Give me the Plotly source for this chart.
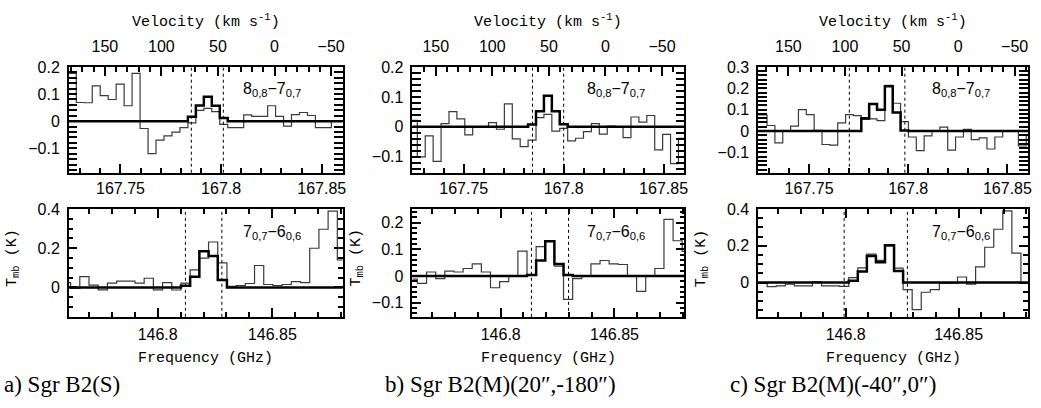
import numpy as np
import plotly.graph_objects as go

# ---------------- data ----------------
top_width = 0.00396     # channel width (GHz), 8(0,8)-7(0,7) spectra
bot_width = 0.004012    # channel width (GHz), 7(0,7)-6(0,6) spectra

top_range = [167.7243, 167.8604]
bot_range = [146.7612, 146.8807]

# ---- a) Sgr B2(S)
a_top_start = 167.7241
a_top_obs = [0.176, 0.069, 0.068, 0.13, 0.094, 0.08, 0.137, 0.057, 0.176, -0.027,
             -0.12, -0.07, -0.054, -0.04, -0.024, -0.006, 0.04, 0.047, 0.035, -0.012,
             -0.024, -0.024, 0.023, 0.018, 0.018, 0.057, 0.018, -0.018, 0.024, 0.032,
             0.021, -0.024, -0.024, 0.0, 0.0]
a_top_mod = [0, 0, 0, 0, 0, 0, 0, 0, 0, 0,
             0, 0, 0, 0, 0, 0.016, 0.058, 0.09, 0.057, 0.012,
             0, 0, 0, 0, 0, 0, 0, 0, 0, 0,
             0, 0, 0, 0, 0]
a_bot_start = 146.7580
a_bot_obs = [0.025, -0.005, 0.055, 0.012, -0.012, 0.022, 0.032, 0.032, 0.022, 0.047,
             -0.012, 0.025, -0.013, 0.022, 0.09, 0.15, 0.232, 0.125, 0.005, 0.01,
             0.02, 0.112, 0.015, 0.01, 0.015, 0.03, 0.025, 0.2, 0.297, 0.39,
             0.14]
a_bot_mod = [0, 0, 0, 0, 0, 0, 0, 0, 0, 0,
             0, 0, 0, 0.008, 0.055, 0.185, 0.16, 0.038, 0, 0,
             0, 0, 0, 0, 0, 0, 0, 0, 0, 0,
             0]
a_top_vlim = [167.7852, 167.8011]
a_bot_vlim = [146.8121, 146.8280]

# ---- b) Sgr B2(M)(20",-180")
b_top_start = 167.7228
b_top_obs = [0.022, -0.10, -0.03, -0.115, 0.011, 0.051, 0.027, -0.027, 0.0, 0.0,
             0.014, -0.008, 0.077, -0.04, -0.066, -0.044, 0.031, 0.042, -0.014, -0.005,
             -0.047, -0.038, -0.016, 0.011, -0.024, 0.003, 0.0, -0.036, 0.033, 0.016,
             0.038, -0.077, -0.025, -0.123, -0.038]
b_top_mod = [0, 0, 0, 0, 0, 0, 0, 0, 0, 0,
             0, 0, 0, 0, 0, 0.008, 0.052, 0.104, 0.052, 0.009,
             0, 0, 0, 0, 0, 0, 0, 0, 0, 0,
             0, 0, 0, 0, 0]
b_bot_start = 146.7594
b_bot_obs = [-0.012, -0.028, 0.015, -0.01, 0.018, 0.015, 0.028, 0.045, 0.015, -0.044,
             -0.021, 0.0, 0.093, 0.004, 0.11, 0.132, 0.037, -0.088, -0.01, 0.0,
             0.045, 0.058, 0.045, 0.043, 0.0, -0.058, 0.0, 0.028, 0.212, 0.132,
             0.092]
b_bot_mod = [0, 0, 0, 0, 0, 0, 0, 0, 0, 0,
             0, 0, 0, 0.004, 0.058, 0.13, 0.045, 0.004, 0, 0,
             0, 0, 0, 0, 0, 0, 0, 0, 0, 0,
             0]
b_top_vlim = [167.7844, 167.8000]
b_bot_vlim = [146.8135, 146.8298]

# ---- c) Sgr B2(M)(-40",0")
c_top_start = 167.7209
c_top_obs = [0.075, 0.075, 0.026, -0.055, 0.0, 0.023, 0.1, 0.077, 0.003, -0.063,
             -0.066, 0.038, 0.077, 0.072, 0.054, 0.057, 0.049, 0.214, 0.13, 0.044,
             -0.028, -0.092, -0.023, 0.0, 0.018, -0.089, -0.028, 0.008, -0.04, -0.032,
             -0.084, -0.028, 0.0, 0.0, -0.07, -0.02]
c_top_mod = [0, 0, 0, 0, 0, 0, 0, 0, 0, 0,
             0, 0, 0, 0, 0.06, 0.126, 0.1, 0.21, 0.087, 0.003,
             0, 0, 0, 0, 0, 0, 0, 0, 0, 0,
             0, 0, 0, 0, 0, 0]
c_bot_start = 146.7572
c_bot_obs = [-0.005, -0.005, -0.023, -0.018, -0.009, -0.018, -0.018, 0.004, -0.018, -0.018,
             -0.021, 0.027, 0.08, 0.155, 0.12, 0.2, 0.078, -0.039, -0.148, -0.053,
             -0.039, -0.005, -0.004, 0.03, -0.009, 0.085, 0.192, 0.29, 0.39, 0.16,
             -0.005]
c_bot_mod = [0, 0, 0, 0, 0, 0, 0, 0, 0, 0,
             0, 0.01, 0.06, 0.145, 0.11, 0.203, 0.062, 0, 0, 0,
             0, 0, 0, 0, 0, 0, 0, 0, 0, 0,
             0]
c_top_vlim = [167.7703, 167.7983]
c_bot_vlim = [146.7993, 146.8273]

captions = ["a) Sgr B2(S)", "b) Sgr B2(M)(20\u2033,-180\u2033)", "c) Sgr B2(M)(-40\u2033,0\u2033)"]
top_label = "8<sub>0,8</sub>\u22127<sub>0,7</sub>"
bot_label = "7<sub>0,7</sub>\u22126<sub>0,6</sub>"

# velocity scale ranges shown on the top axes (km/s)
vel_ranges = [[181.9, -60.2], [170.6, -69.7], [176.8, -61.8]]

# ---------------- layout geometry ----------------
W, H = 1041, 408
def X(px): return px / W
def Y(py): return 1 - py / H

panel_x = [(69, 344), (414, 687), (761, 1032)]
top_y = (60, 168)
bot_y = (205, 315)

top_yr = [[-0.19, 0.2005], [-0.153, 0.2005], [-0.195, 0.3005]]
bot_yr = [[-0.15, 0.4005], [-0.153, 0.251], [-0.187, 0.4005]]
top_ydt = [(0.1, 0.02), (0.1, 0.02), (0.1, 0.02)]
bot_ydt = [(0.2, 0.05), (0.1, 0.02), (0.2, 0.05)]

tick_font = dict(family="Liberation Sans", size=16, color="black")
title_font = dict(family="Liberation Mono", size=15, color="black")

def steps(start, width, vals):
    edges = start + width * np.arange(len(vals) + 1)
    return edges, list(vals) + [vals[-1]]

panels = [
    (a_top_start, a_top_obs, a_top_mod, a_top_vlim, a_bot_start, a_bot_obs, a_bot_mod, a_bot_vlim),
    (b_top_start, b_top_obs, b_top_mod, b_top_vlim, b_bot_start, b_bot_obs, b_bot_mod, b_bot_vlim),
    (c_top_start, c_top_obs, c_top_mod, c_top_vlim, c_bot_start, c_bot_obs, c_bot_mod, c_bot_vlim),
]

fig = go.Figure()
shapes = []
annotations = []

def axis_common():
    return dict(showline=True, linecolor="black", linewidth=1.5, ticks="inside",
                ticklen=9, tickwidth=2, tickcolor="black", showgrid=False,
                zeroline=False, tickfont=tick_font)

def MINOR(d):
    return dict(ticks="inside", ticklen=5, tickwidth=1.5, dtick=d, tickcolor="black", showgrid=False)

sfx = lambda n: "" if n == 1 else str(n)

for i, (ts, to, tm, tv, bs, bo, bm, bv) in enumerate(panels):
    xt, xb = 2 * i + 1, 2 * i + 2
    xv = 7 + i
    xl, xr = panel_x[i]
    for (start, width, obs, mod, ax) in [(ts, top_width, to, tm, xt), (bs, bot_width, bo, bm, xb)]:
        ex, ey = steps(start, width, obs)
        fig.add_trace(go.Scatter(x=ex, y=ey, mode="lines", line=dict(color="#3a3a3a", width=1.2, shape="hv"),
                                 xaxis="x" + sfx(ax), yaxis="y" + sfx(ax), showlegend=False, hoverinfo="skip"))
        ex, ey = steps(start, width, mod)
        fig.add_trace(go.Scatter(x=ex, y=ey, mode="lines", line=dict(color="black", width=2.5, shape="hv"),
                                 xaxis="x" + sfx(ax), yaxis="y" + sfx(ax), showlegend=False, hoverinfo="skip"))
    # carrier (no visible marks) for the top velocity axis
    fig.add_trace(go.Scatter(x=vel_ranges[i], y=[None, None], mode="lines",
                             xaxis="x" + str(xv), yaxis="y" + sfx(xt), showlegend=False, hoverinfo="skip"))

    ax = axis_common()
    ax.update(domain=[X(xl), X(xr)], range=top_range, anchor="y" + sfx(xt), mirror=True,
              dtick=0.05, tick0=0, minor=MINOR(0.01))
    fig.layout["xaxis" + sfx(xt)] = ax
    ay = axis_common()
    ay.update(domain=[Y(top_y[1]), Y(top_y[0])], range=top_yr[i], anchor="x" + sfx(xt), mirror="allticks",
              dtick=top_ydt[i][0], tick0=0, ticklabelstandoff=4, minor=MINOR(top_ydt[i][1]))
    fig.layout["yaxis" + sfx(xt)] = ay
    av = axis_common()
    av.update(domain=[X(xl), X(xr)], side="top", anchor="y" + sfx(xt), range=vel_ranges[i],
              dtick=50, tick0=0, showline=True, ticklabelstandoff=7, minor=MINOR(10))
    fig.layout["xaxis" + str(xv)] = av

    bx = axis_common()
    bx.update(domain=[X(xl), X(xr)], range=bot_range, anchor="y" + sfx(xb), mirror="allticks",
              dtick=0.05, tick0=0, ticklabelstandoff=2, minor=MINOR(0.01))
    fig.layout["xaxis" + sfx(xb)] = bx
    by = axis_common()
    by.update(domain=[Y(bot_y[1]), Y(bot_y[0])], range=bot_yr[i], anchor="x" + sfx(xb), mirror="allticks",
              dtick=bot_ydt[i][0], tick0=0, ticklabelstandoff=4, minor=MINOR(bot_ydt[i][1]))
    fig.layout["yaxis" + sfx(xb)] = by

    for f in tv:
        shapes.append(dict(type="line", xref="x" + sfx(xt), yref="y" + sfx(xt) + " domain",
                           x0=f, x1=f, y0=0, y1=1, line=dict(color="black", width=1, dash="dot")))
    for f in bv:
        shapes.append(dict(type="line", xref="x" + sfx(xb), yref="y" + sfx(xb) + " domain",
                           x0=f, x1=f, y0=0, y1=1, line=dict(color="black", width=1, dash="dot")))

    cx = (xl + xr) / 2
    annotations += [
        dict(text="Velocity (km s<sup>-1</sup>)", x=X(cx), y=Y(13), xref="paper", yref="paper",
             showarrow=False, font=title_font, xanchor="center", yanchor="middle"),
        dict(text="Frequency (GHz)", x=X(cx), y=Y(357), xref="paper", yref="paper",
             showarrow=False, font=title_font, xanchor="center", yanchor="middle"),
        dict(text="T<sub>mb</sub> (K)", x=X(xl - 56), y=Y(255), xref="paper", yref="paper",
             showarrow=False, font=title_font, textangle=-90, xanchor="center", yanchor="middle"),
        dict(text=top_label, x=X(xl + 173), y=Y(83), xref="paper", yref="paper",
             showarrow=False, font=dict(family="Liberation Sans", size=16, color="black"),
             xanchor="left", yanchor="middle"),
        dict(text=bot_label, x=X(xl + 173), y=Y(229), xref="paper", yref="paper",
             showarrow=False, font=dict(family="Liberation Sans", size=16, color="black"),
             xanchor="left", yanchor="middle"),
    ]

cap_x = [2, 384, 731]
for i, c in enumerate(captions):
    annotations.append(dict(text=c, x=X(cap_x[i]), y=Y(384), xref="paper", yref="paper",
                            showarrow=False, xanchor="left", yanchor="middle",
                            font=dict(family="Liberation Serif", size=23, color="black")))

fig.update_layout(width=W, height=H, margin=dict(l=0, r=0, t=0, b=0),
                  paper_bgcolor="white", plot_bgcolor="rgba(0,0,0,0)",
                  shapes=shapes, annotations=annotations, showlegend=False)

fig.write_html("out.html", config={"displayModeBar": False},
               post_script="document.body.style.margin='0px';document.body.style.overflow='hidden';")
